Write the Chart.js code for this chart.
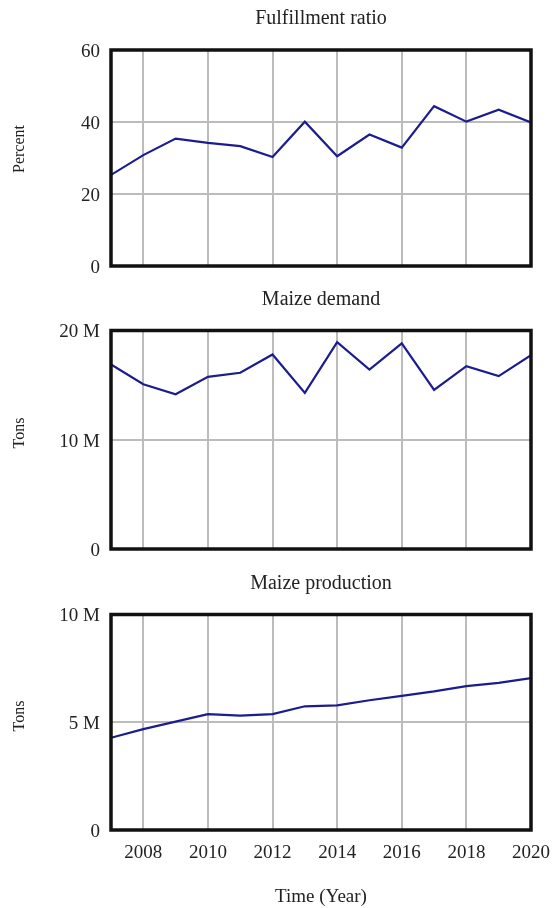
<!DOCTYPE html>
<html>
<head>
<meta charset="utf-8">
<script src="https://cdn.jsdelivr.net/npm/chart.js@4.4.1/dist/chart.umd.min.js"></script>
<style>
  html, body { margin: 0; padding: 0; background: #fff; }
  #wrap { position: relative; width: 553px; height: 908px; }
  #wrap canvas { position: absolute; left: 0; top: 0; }
</style>
</head>
<body>
<div id="wrap">
  <canvas id="ratioChart" width="553" height="908"></canvas>
  <canvas id="demandChart" width="553" height="908"></canvas>
  <canvas id="productionChart" width="553" height="908"></canvas>
</div>
<script>
// Simulation output, 2007-2020
const years = [2007, 2008, 2009, 2010, 2011, 2012, 2013, 2014, 2015, 2016, 2017, 2018, 2019, 2020];

// Share of maize demand covered by domestic production (%)
const fulfillmentRatio = [25.3, 30.8, 35.4, 34.2, 33.3, 30.3, 40.1, 30.5, 36.5, 32.9, 44.4, 40.1, 43.4, 39.9];

// Maize demand (tons)
const maizeDemand = [16.89e6, 15.08e6, 14.17e6, 15.76e6, 16.13e6, 17.81e6, 14.29e6, 18.94e6, 16.43e6, 18.82e6, 14.56e6, 16.74e6, 15.82e6, 17.75e6];

// Maize production (tons)
const maizeProduction = [4.28e6, 4.68e6, 5.03e6, 5.38e6, 5.31e6, 5.38e6, 5.74e6, 5.78e6, 6.02e6, 6.22e6, 6.43e6, 6.68e6, 6.83e6, 7.05e6];

// Axis ticks
const yearTicks = [2008, 2010, 2012, 2014, 2016, 2018, 2020];
const ratioTicks = [0, 20, 40, 60];
const demandTicks = [0, 10e6, 20e6];
const productionTicks = [0, 5e6, 10e6];

const SERIF = '"Liberation Serif", "Times New Roman", serif';
Chart.defaults.font.family = SERIF;
Chart.defaults.color = '#222';

const LINE_COLOR = '#1c1c8e';
const GRID_COLOR = '#bcbcbc';

// Frame, panel title and rotated unit label for each panel
const panelDecor = {
  id: 'panelDecor',
  afterDraw(chart, args, opts) {
    const { ctx, chartArea: a } = chart;
    ctx.save();
    ctx.strokeStyle = '#111';
    ctx.lineWidth = 3.5;
    ctx.strokeRect(a.left, a.top, a.right - a.left, a.bottom - a.top);

    ctx.fillStyle = '#222';
    ctx.textAlign = 'center';
    ctx.textBaseline = 'alphabetic';
    ctx.font = '20px ' + SERIF;
    ctx.fillText(opts.title, (a.left + a.right) / 2, a.top - 26);

    ctx.translate(20, opts.unitY);
    ctx.rotate(-Math.PI / 2);
    ctx.textBaseline = 'middle';
    ctx.font = '16px ' + SERIF;
    ctx.fillText(opts.unit, 0, 0);
    ctx.restore();
  }
};

function millions(v) {
  return v === 0 ? '0' : (v / 1e6) + ' M';
}

function makePanel(canvasId, cfg) {
  const points = years.map((yr, i) => ({ x: yr, y: cfg.values[i] }));
  return new Chart(document.getElementById(canvasId), {
    type: 'line',
    data: {
      datasets: [{
        data: points,
        borderColor: LINE_COLOR,
        borderWidth: 2.2,
        pointRadius: 0,
        tension: 0,
        fill: false
      }]
    },
    options: {
      responsive: false,
      animation: false,
      events: [],
      layout: { padding: { left: 0, right: 22, top: cfg.top, bottom: cfg.bottomPad } },
      plugins: {
        legend: { display: false },
        tooltip: { enabled: false },
        title: { display: false },
        panelDecor: { title: cfg.title, unit: cfg.unit, unitY: cfg.unitY }
      },
      scales: {
        x: {
          type: 'linear',
          min: years[0],
          max: years[years.length - 1],
          afterBuildTicks: s => { s.ticks = yearTicks.map(v => ({ value: v })); },
          afterFit: s => {
            s.height = cfg.xHeight;
            s.paddingLeft = 0;
            s.paddingRight = 0;
          },
          grid: { color: GRID_COLOR, lineWidth: 2, drawTicks: false },
          border: { display: false },
          ticks: {
            display: cfg.showYears,
            padding: 12,
            maxRotation: 0,
            font: { size: 19 },
            callback: v => String(v)
          },
          title: {
            display: cfg.showYears,
            text: 'Time (Year)',
            font: { size: 19 },
            padding: { top: 0, bottom: 0 }
          }
        },
        y: {
          min: cfg.ticks[0],
          max: cfg.ticks[cfg.ticks.length - 1],
          afterBuildTicks: s => { s.ticks = cfg.ticks.map(v => ({ value: v })); },
          afterFit: s => { s.width = 111; },
          grid: { color: GRID_COLOR, lineWidth: 2, drawTicks: false },
          border: { display: false },
          ticks: {
            padding: 11,
            labelOffset: 2,
            font: { size: 19 },
            callback: cfg.format
          }
        }
      }
    },
    plugins: [panelDecor]
  });
}

makePanel('ratioChart', {
  values: fulfillmentRatio,
  ticks: ratioTicks,
  format: v => String(v),
  title: 'Fulfillment ratio',
  unit: 'Percent',
  unitY: 149,
  top: 50,
  bottomPad: 908 - 266,
  xHeight: 0,
  showYears: false
});

makePanel('demandChart', {
  values: maizeDemand,
  ticks: demandTicks,
  format: millions,
  title: 'Maize demand',
  unit: 'Tons',
  unitY: 433,
  top: 330.5,
  bottomPad: 908 - 549,
  xHeight: 0,
  showYears: false
});

makePanel('productionChart', {
  values: maizeProduction,
  ticks: productionTicks,
  format: millions,
  title: 'Maize production',
  unit: 'Tons',
  unitY: 716,
  top: 614.5,
  bottomPad: 0,
  xHeight: 908 - 830,
  showYears: true
});
</script>
</body>
</html>
